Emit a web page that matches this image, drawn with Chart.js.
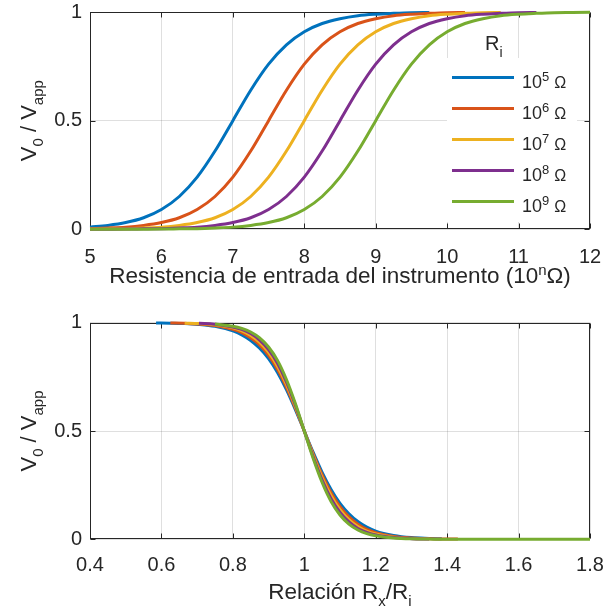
<!DOCTYPE html>
<html>
<head>
<meta charset="utf-8">
<script src="https://cdn.jsdelivr.net/npm/chart.js@4.4.1/dist/chart.umd.min.js"></script>
<style>
  html, body { margin: 0; padding: 0; background: #ffffff; }
  #wrap { position: relative; width: 606px; height: 616px; }
  #topPlot { position: absolute; left: 0; top: 0; }
  #bottomPlot { position: absolute; left: 0; top: 300px; }
</style>
</head>
<body>
<div id="wrap">
  <canvas id="topPlot" width="606" height="300"></canvas>
  <canvas id="bottomPlot" width="606" height="316"></canvas>
</div>
<script>
// ---- Upper panel: V0/Vapp against the instrument input resistance (10^n Ω) ----
const inputExponent = [5, 5.25, 5.5, 5.75, 6, 6.25, 6.5, 6.75, 7, 7.25, 7.5, 7.75, 8, 8.25, 8.5,
  8.75, 9, 9.25, 9.5, 9.75, 10, 10.25, 10.5, 10.75, 11, 11.25, 11.5, 11.75, 12];

const ratioRi5 = [0.010, 0.018, 0.031, 0.053, 0.091, 0.151, 0.240, 0.360, 0.500, 0.640, 0.760,
  0.849, 0.909, 0.947, 0.969, 0.983, 0.990, 0.994, 0.997, 0.998];
const ratioRi6 = [0.003, 0.006, 0.010, 0.018, 0.031, 0.053, 0.091, 0.151, 0.240, 0.360, 0.500,
  0.640, 0.760, 0.849, 0.909, 0.947, 0.969, 0.983, 0.990, 0.994, 0.997, 0.998];
const ratioRi7 = [0.001, 0.002, 0.003, 0.006, 0.010, 0.018, 0.031, 0.053, 0.091, 0.151, 0.240,
  0.360, 0.500, 0.640, 0.760, 0.849, 0.909, 0.947, 0.969, 0.983, 0.990, 0.994, 0.997, 0.998];
const ratioRi8 = [0.0003, 0.0006, 0.001, 0.002, 0.003, 0.006, 0.010, 0.018, 0.031, 0.053, 0.091,
  0.151, 0.240, 0.360, 0.500, 0.640, 0.760, 0.849, 0.909, 0.947, 0.969, 0.983, 0.990, 0.994,
  0.997, 0.998];
const ratioRi9 = [0.0001, 0.0002, 0.0003, 0.0006, 0.001, 0.002, 0.003, 0.006, 0.010, 0.018, 0.031,
  0.053, 0.091, 0.151, 0.240, 0.360, 0.500, 0.640, 0.760, 0.849, 0.909, 0.947, 0.969, 0.983,
  0.990, 0.994, 0.997, 0.998, 0.999];

// ---- Lower panel: V0/Vapp against Rx/Ri ----
const rxOverRi = [0.585, 0.625, 0.665, 0.705, 0.75, 0.8, 0.825, 0.85, 0.875, 0.9, 0.925, 0.95,
  0.975, 1.0, 1.025, 1.05, 1.075, 1.1, 1.125, 1.15, 1.175, 1.2, 1.25, 1.3, 1.35, 1.385, 1.43,
  1.5, 1.6, 1.7, 1.8];

const dropRi5 = [0.999, 0.998, 0.996, 0.992, 0.983, 0.962, 0.944, 0.918, 0.882, 0.834, 0.770,
  0.691, 0.599, 0.500, 0.401, 0.309, 0.230, 0.166, 0.118, 0.082, 0.056, 0.038, 0.018, 0.008,
  0.004, 0.002, null, null, null, null, null];
const dropRi6 = [null, 0.999, 0.997, 0.994, 0.987, 0.969, 0.954, 0.930, 0.897, 0.849, 0.785,
  0.703, 0.606, 0.500, 0.394, 0.297, 0.215, 0.151, 0.104, 0.070, 0.046, 0.031, 0.013, 0.006,
  0.002, 0.001, 0.001, null, null, null, null];
const dropRi7 = [null, null, 0.998, 0.996, 0.990, 0.976, 0.962, 0.941, 0.909, 0.863, 0.799,
  0.715, 0.613, 0.500, 0.387, 0.285, 0.201, 0.137, 0.091, 0.059, 0.038, 0.025, 0.010, 0.004,
  0.002, null, null, null, null, null, null];
const dropRi8 = [null, null, null, 0.997, 0.993, 0.980, 0.969, 0.950, 0.920, 0.876, 0.813,
  0.727, 0.620, 0.500, 0.380, 0.273, 0.187, 0.124, 0.080, 0.050, 0.032, 0.020, 0.008, 0.003,
  0.001, null, null, null, null, null, null];
const dropRi9 = [null, null, null, null, 0.994, 0.984, 0.974, 0.957, 0.930, 0.888, 0.826,
  0.738, 0.627, 0.500, 0.373, 0.262, 0.174, 0.112, 0.070, 0.043, 0.026, 0.016, 0.006, 0.002,
  0.001, 0, 0, 0, 0, 0, 0];

// Legend entries: exponent of Ri and line colour
const riExponents = ['5', '6', '7', '8', '9'];
const seriesColors = ['#0072BD', '#D95319', '#EDB120', '#7E2F8E', '#77AC30'];

const topTicks = [5, 6, 7, 8, 9, 10, 11, 12];
const bottomTicks = [0.4, 0.6, 0.8, 1, 1.2, 1.4, 1.6, 1.8];
const yTicks = [0, 0.5, 1];

const FONT = '"Liberation Sans", Arial, Helvetica, sans-serif';
const INK = '#262626';
const GRID = 'rgba(38,38,38,0.15)';

Chart.defaults.font.family = FONT;
Chart.defaults.font.size = 20;
Chart.defaults.color = INK;

function toPoints(xs, ys) {
  const pts = [];
  ys.forEach((v, i) => { if (v !== null) pts.push({ x: xs[i], y: v }); });
  return pts;
}

function buildDatasets(xs, lists) {
  return lists.map((ys, i) => ({
    label: '10^' + riExponents[i] + ' Ω',
    data: toPoints(xs, ys),
    borderColor: seriesColors[i],
    backgroundColor: seriesColors[i],
    borderWidth: 3,
    pointRadius: 0,
    pointHoverRadius: 0,
    cubicInterpolationMode: 'monotone',
    fill: false,
    clip: 4,
    order: lists.length - i   // later series painted on top
  }));
}

// Text with sub/superscripts drawn as runs of different sizes, centred on (x, y)
function drawRich(ctx, parts, x, y, angle) {
  ctx.save();
  ctx.translate(x, y);
  if (angle) ctx.rotate(angle);
  ctx.textAlign = 'left';
  ctx.textBaseline = 'alphabetic';
  ctx.fillStyle = INK;
  const widths = parts.map(p => { ctx.font = p.size + 'px ' + FONT; return ctx.measureText(p.t).width; });
  const total = widths.reduce((a, b) => a + b, 0);
  let cx = -total / 2;
  parts.forEach((p, i) => {
    ctx.font = p.size + 'px ' + FONT;
    ctx.fillText(p.t, cx, p.dy || 0);
    cx += widths[i];
  });
  ctx.restore();
}

// Same, left-aligned at (x, y)
function drawRichLeft(ctx, parts, x, y) {
  ctx.save();
  ctx.textAlign = 'left';
  ctx.textBaseline = 'alphabetic';
  ctx.fillStyle = INK;
  let cx = x;
  parts.forEach(p => {
    ctx.font = p.size + 'px ' + FONT;
    ctx.fillText(p.t, cx, y + (p.dy || 0));
    cx += ctx.measureText(p.t).width;
  });
  ctx.restore();
}

// Axes box with inward tick marks on all four sides
const framePlugin = {
  id: 'frame',
  beforeDatasetsDraw(chart) {
    const { ctx, chartArea: a, scales } = chart;
    const L = Math.round(a.left) + 0.5, R = Math.round(a.right) - 0.5;
    const T = Math.round(a.top) + 0.5, B = Math.round(a.bottom) - 0.5;
    const len = 5;
    ctx.save();
    ctx.strokeStyle = INK;
    ctx.lineWidth = 1;
    ctx.beginPath();
    scales.x.ticks.forEach((t, i) => {
      const px = Math.round(scales.x.getPixelForTick(i)) + 0.5;
      ctx.moveTo(px, B); ctx.lineTo(px, B - len);
      ctx.moveTo(px, T); ctx.lineTo(px, T + len);
    });
    scales.y.ticks.forEach((t, i) => {
      const py = Math.round(scales.y.getPixelForTick(i)) + 0.5;
      ctx.moveTo(L, py); ctx.lineTo(L + len, py);
      ctx.moveTo(R, py); ctx.lineTo(R - len, py);
    });
    ctx.stroke();
    ctx.strokeRect(L, T, R - L, B - T);
    ctx.restore();
  }
};

// Axis titles with subscripts/superscripts
const titlesPlugin = {
  id: 'titles',
  afterDraw(chart, args, opts) {
    const { ctx, chartArea: a } = chart;
    const cx = (a.left + a.right) / 2;
    const cy = (a.top + a.bottom) / 2;
    drawRich(ctx, opts.x, cx, a.bottom + opts.xGap, 0);
    drawRich(ctx, opts.y, opts.yBase, cy, -Math.PI / 2);
  }
};

// Legend box in the upper panel
const legendPlugin = {
  id: 'riLegend',
  afterDatasetsDraw(chart, args, opts) {
    if (!opts.show) return;
    const ctx = chart.ctx;
    ctx.save();
    ctx.fillStyle = '#ffffff';
    ctx.fillRect(447, 58, 130, 164);
    drawRichLeft(ctx, [{ t: 'R', size: 20 }, { t: 'i', size: 14, dy: 7 }], 485, 50);
    chart.data.datasets.forEach((ds, i) => {
      const y = 77.5 + i * 31;
      ctx.strokeStyle = ds.borderColor;
      ctx.lineWidth = 3;
      ctx.beginPath();
      ctx.moveTo(452, y);
      ctx.lineTo(514, y);
      ctx.stroke();
      drawRichLeft(ctx, [
        { t: '10', size: 18 },
        { t: riExponents[i], size: 13, dy: -7 },
        { t: ' ', size: 18 },
        { t: 'Ω', size: 16 }
      ], 522, y + 10.5);
    });
    ctx.restore();
  }
};

function makeChart(canvasId, cfg) {
  return new Chart(document.getElementById(canvasId), {
    type: 'line',
    data: { datasets: buildDatasets(cfg.xs, cfg.series) },
    options: {
      responsive: false,
      animation: false,
      events: [],
      layout: { padding: { left: 0, right: 16, top: cfg.padTop, bottom: 0 } },
      plugins: {
        legend: { display: false },
        tooltip: { enabled: false },
        titles: cfg.titles,
        riLegend: { show: cfg.legend }
      },
      scales: {
        x: {
          type: 'linear',
          min: cfg.xTicks[0],
          max: cfg.xTicks[cfg.xTicks.length - 1],
          afterBuildTicks: s => { s.ticks = cfg.xTicks.map(v => ({ value: v })); },
          ticks: {
            padding: 0,
            maxRotation: 0,
            autoSkip: false,
            color: INK,
            callback: v => String(+Number(v).toFixed(2))
          },
          grid: {
            color: GRID, lineWidth: 1,
            drawTicks: true, tickLength: cfg.xLabelGap, tickColor: 'rgba(0,0,0,0)'
          },
          border: { display: false },
          afterFit: s => { s.height = cfg.xHeight; }
        },
        y: {
          type: 'linear',
          min: 0,
          max: 1,
          afterBuildTicks: s => { s.ticks = yTicks.map(v => ({ value: v })); },
          ticks: {
            padding: 0,
            color: INK,
            callback: v => String(v)
          },
          grid: {
            color: GRID, lineWidth: 1,
            drawTicks: true, tickLength: 8, tickColor: 'rgba(0,0,0,0)'
          },
          border: { display: false },
          afterFit: s => { s.width = 90; }
        }
      }
    },
    plugins: [framePlugin, titlesPlugin, legendPlugin]
  });
}

const yTitle = [
  { t: 'V', size: 22 }, { t: '0', size: 15, dy: 7 },
  { t: ' / V', size: 22 }, { t: 'app', size: 15, dy: 7 }
];

makeChart('topPlot', {
  xs: inputExponent,
  series: [ratioRi5, ratioRi6, ratioRi7, ratioRi8, ratioRi9],
  xTicks: topTicks,
  padTop: 11,
  xHeight: 70.7,
  xLabelGap: 16,
  legend: true,
  titles: {
    x: [{ t: 'Resistencia de entrada del instrumento (10', size: 22.5 },
        { t: 'n', size: 15, dy: -8 }, { t: 'Ω)', size: 22.5 }],
    xGap: 54,
    y: yTitle,
    yBase: 36
  }
});

makeChart('bottomPlot', {
  xs: rxOverRi,
  series: [dropRi5, dropRi6, dropRi7, dropRi8, dropRi9],
  xTicks: bottomTicks,
  padTop: 22.7,
  xHeight: 76.7,
  xLabelGap: 14,
  legend: false,
  titles: {
    x: [{ t: 'Relación R', size: 22.5 }, { t: 'x', size: 15, dy: 7 },
        { t: '/R', size: 22.5 }, { t: 'i', size: 15, dy: 7 }],
    xGap: 60,
    y: yTitle,
    yBase: 36
  }
});
</script>
</body>
</html>
